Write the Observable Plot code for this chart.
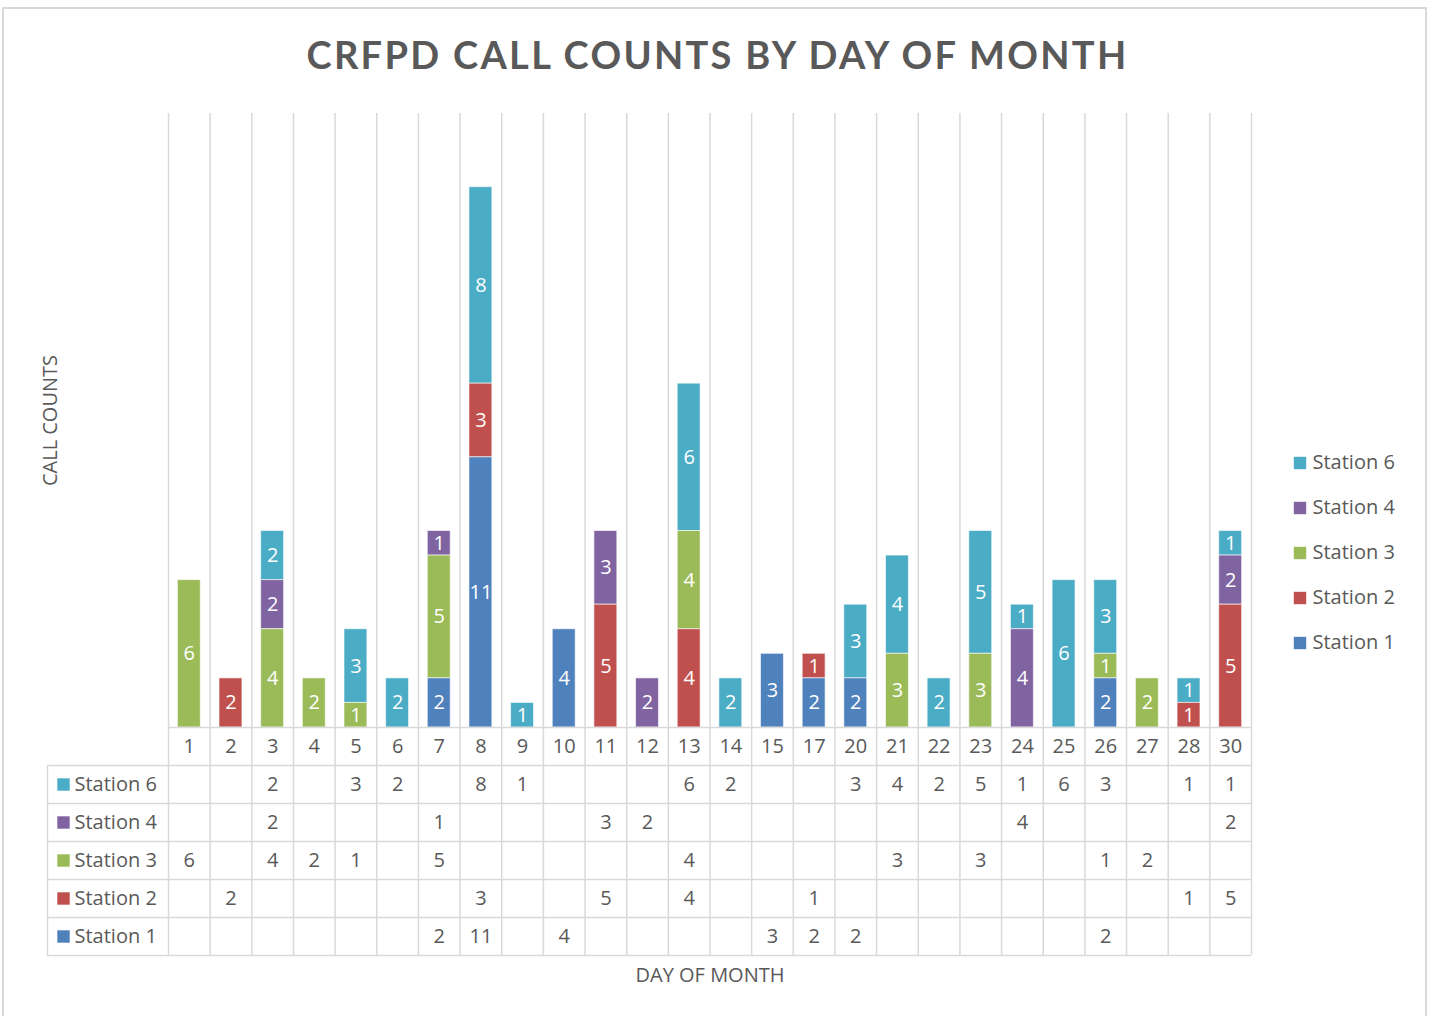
<!DOCTYPE html>
<html><head><meta charset="utf-8">
<script src="https://cdn.jsdelivr.net/npm/d3@7"></script>
<script src="https://cdn.jsdelivr.net/npm/@observablehq/plot@0.6"></script>
<style>
html,body{margin:0;padding:0;background:#fff;}
#chart{position:relative;width:1435px;height:1016px;overflow:hidden;font-family:"Open Sans",Lato,sans-serif;color:#595959;}
#border{position:absolute;left:2px;top:7px;width:1425px;height:1040px;border:2px solid #d9d9d9;box-sizing:border-box}
#title{position:absolute;top:31px;left:0;width:1435px;text-align:center;font-family:Lato,"Open Sans",sans-serif;font-size:38px;font-weight:700;letter-spacing:2.3px;color:#595959;white-space:nowrap}
.layer{position:absolute;left:0;}
svg{overflow:visible}
</style></head><body>
<div id="chart"><div id="border"></div><div id="title">CRFPD CALL COUNTS BY DAY OF MONTH</div></div>
<script>
const days = ["1","2","3","4","5","6","7","8","9","10","11","12","13","14","15","17","20","21","22","23","24","25","26","27","28","30"];
const stations = ["Station 6","Station 4","Station 3","Station 2","Station 1"];
const stationColors = ["#4BACC6","#8064A2","#9BBB59","#C0504D","#4F81BD"];
const station6 = [null,null,2,null,3,2,null,8,1,null,null,null,6,2,null,null,3,4,2,5,1,6,3,null,1,1];
const station4 = [null,null,2,null,null,null,1,null,null,null,3,2,null,null,null,null,null,null,null,null,4,null,null,null,null,2];
const station3 = [6,null,4,2,1,null,5,null,null,null,null,null,4,null,null,null,null,3,null,3,null,null,1,2,null,null];
const station2 = [null,2,null,null,null,null,null,3,null,null,5,null,4,null,null,1,null,null,null,null,null,null,null,null,1,5];
const station1 = [null,null,null,null,null,null,2,11,null,4,null,null,null,null,3,2,2,null,null,null,null,null,2,null,null,null];
const seriesValues = [station6, station4, station3, station2, station1];

const data = [];
stations.forEach((s, si) => {
  seriesValues[si].forEach((v, di) => {
    if (v != null) data.push({day: days[di], station: s, value: v, row: si + 1});
  });
});
const stackOrder = [...stations].reverse();

const W = 1435, mL = 168, mR = 184;
const step = (W - mL - mR) / days.length;
const barInset = step * 0.225;
const font = "'Open Sans', Lato, sans-serif";
const fontSize = "20px";
const colorScale = {domain: stations, range: stationColors};
const grid = "#d9d9d9";
const chart = document.getElementById("chart");
const xs = () => ({type: "band", domain: days, padding: 0, round: false, axis: null});

const bars = Plot.plot({
  width: W, height: 727, marginTop: 113, marginBottom: 0, marginLeft: mL, marginRight: mR,
  x: xs(),
  y: {domain: [0, 25], axis: null},
  color: colorScale,
  style: {fontFamily: font, fontSize, color: "#595959", background: "transparent", overflow: "visible"},
  marks: [
    Plot.ruleX(days, {x: d => d, dx: -step / 2, stroke: grid, strokeWidth: 1.5}),
    Plot.ruleX([days[days.length - 1]], {x: d => d, dx: step / 2, stroke: grid, strokeWidth: 1.5}),
    Plot.barY(data, {x: "day", y: "value", fill: "station", order: stackOrder, insetLeft: barInset, insetRight: barInset, stroke: "#ffffff", strokeOpacity: 0.6, strokeWidth: 1}),
    Plot.text(data, Plot.stackY({x: "day", y: "value", z: "station", order: stackOrder, text: d => String(d.value), fill: "white"})),
    Plot.text(["CALL COUNTS"], {frameAnchor: "left", textAnchor: "middle", rotate: -90, dx: -118, text: d => d, fill: "#595959"})
  ]
});
bars.classList.add("layer");
bars.style.top = "0px";
chart.appendChild(bars);

const table = Plot.plot({
  width: W, height: 228 + 60, marginTop: 0, marginBottom: 60, marginLeft: mL, marginRight: mR,
  x: xs(),
  y: {domain: [0, 6], reverse: true, axis: null},
  color: colorScale,
  style: {fontFamily: font, fontSize, color: "#595959", background: "transparent", overflow: "visible"},
  marks: [
    Plot.ruleX(days, {x: d => d, dx: -step / 2, y1: 0, y2: 6, stroke: grid, strokeWidth: 1.5}),
    Plot.ruleX([days[days.length - 1]], {x: d => d, dx: step / 2, y1: 0, y2: 6, stroke: grid, strokeWidth: 1.5}),
    Plot.ruleX([days[0]], {x: d => d, dx: -step / 2 - 121, y1: 1, y2: 6, stroke: grid, strokeWidth: 1.5}),
    Plot.ruleY([0], {stroke: grid, strokeWidth: 1.5}),
    Plot.ruleY([1, 2, 3, 4, 5, 6], {stroke: grid, strokeWidth: 1.5, insetLeft: -121}),
    Plot.text(days, {x: d => d, y: 0.5, text: d => d, fill: "#595959"}),
    Plot.text(data, {x: "day", y: d => d.row + 0.5, text: d => String(d.value), fill: "#595959"}),
    Plot.dot(stations, {y: (d, i) => i + 1.5, frameAnchor: "left", dx: -105, symbol: "square", r: 7, fill: d => d}),
    Plot.text(stations, {y: (d, i) => i + 1.5, frameAnchor: "left", dx: -94, textAnchor: "start", text: d => d, fill: "#595959"}),
    Plot.text(["DAY OF MONTH"], {frameAnchor: "bottom", lineAnchor: "middle", dy: 20, text: d => d, fill: "#595959"})
  ]
});
table.classList.add("layer");
table.style.top = "727px";
chart.appendChild(table);

const legend = Plot.plot({
  width: 140, height: 225, margin: 0,
  x: {domain: [0, 1], axis: null},
  y: {type: "band", domain: stations, padding: 0, round: false, axis: null},
  color: colorScale,
  style: {fontFamily: font, fontSize, color: "#595959", background: "transparent", overflow: "visible"},
  marks: [
    Plot.dot(stations, {y: d => d, frameAnchor: "left", dx: 14.5, symbol: "square", r: 7, fill: d => d}),
    Plot.text(stations, {y: d => d, frameAnchor: "left", dx: 27, textAnchor: "start", text: d => d, fill: "#595959"})
  ]
});
legend.classList.add("layer");
legend.style.left = "1285px";
legend.style.top = "440px";
chart.appendChild(legend);
</script>
</body></html>
